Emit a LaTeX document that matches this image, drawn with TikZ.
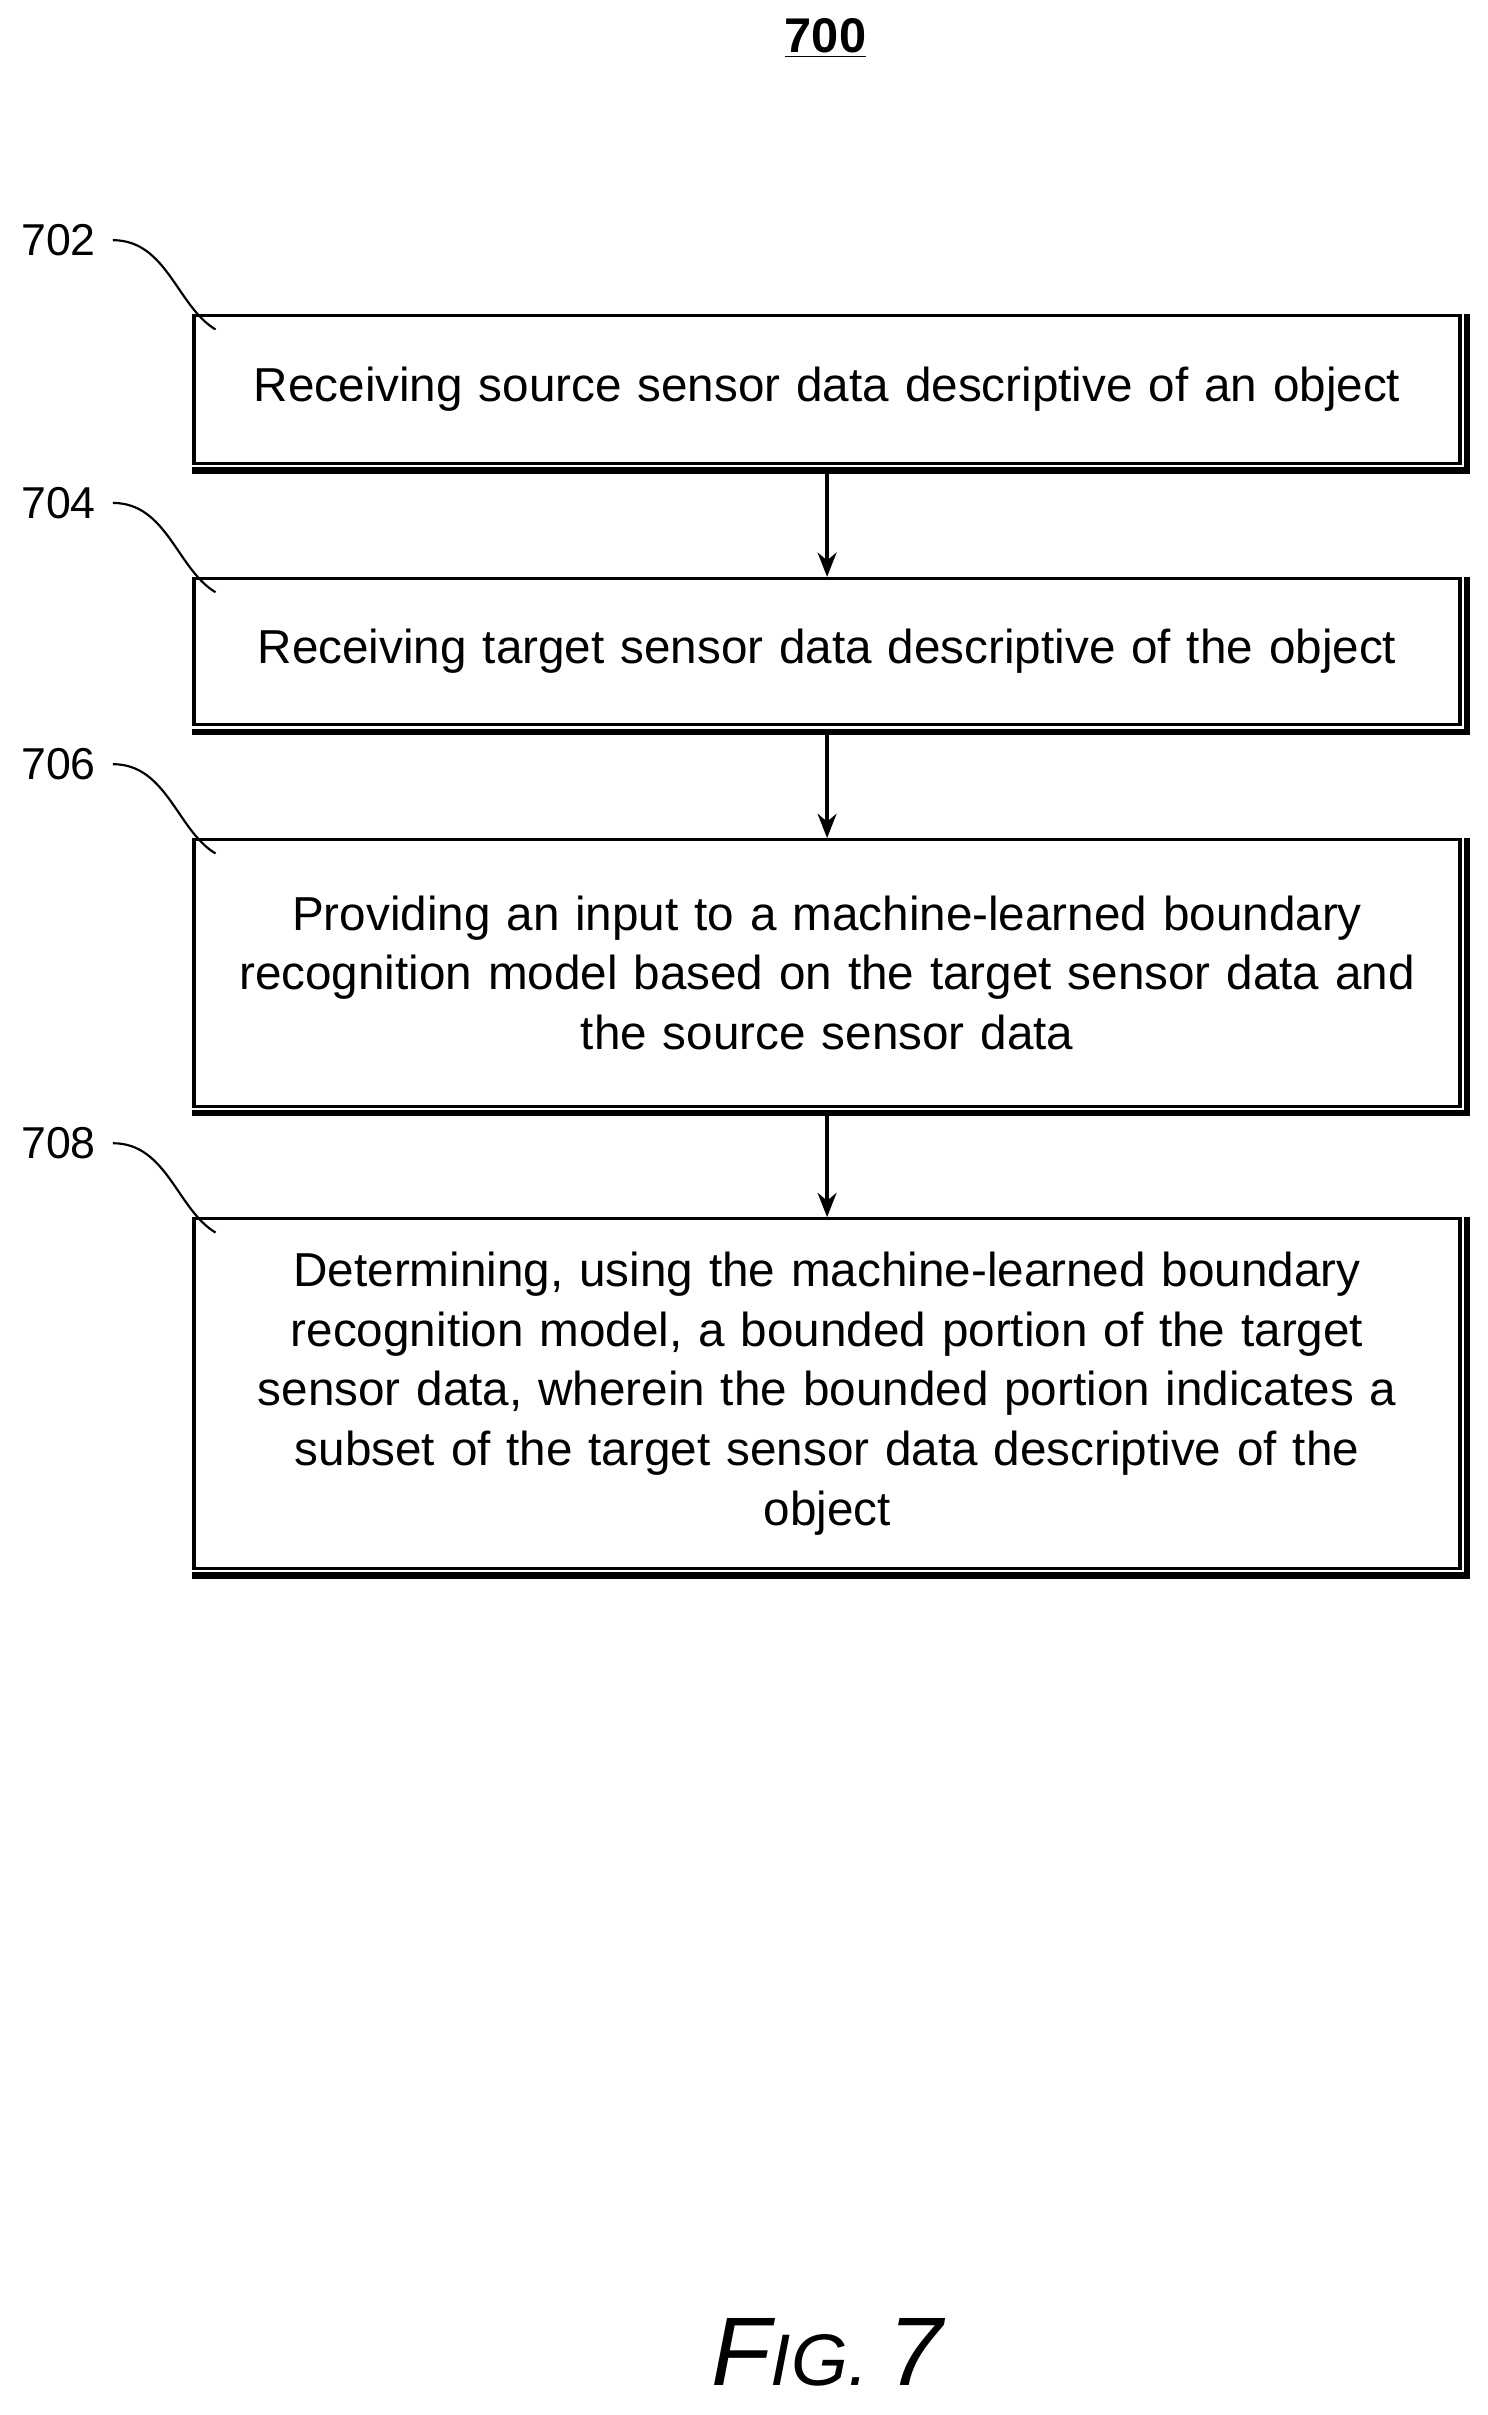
\documentclass[tikz,border=0pt]{standalone}
\usepackage{fontspec}
\setmainfont{Liberation Sans}
\usetikzlibrary{positioning,arrows.meta}
\begin{document}
\begin{tikzpicture}[node distance=1.45cm,>={Stealth[length=9pt,width=7pt]}]

  \tikzstyle{stepBox}=[draw=black, line width=1.2pt, rectangle, align=center, text width=16.2cm,
      minimum width=16.44cm, font=\fontsize{17.6}{22}\selectfont, inner sep=0pt]
  \tikzstyle{shade}=[line width=2.4pt]
  \tikzstyle{ref}=[font=\fontsize{16.5}{16.5}\selectfont, anchor=center]

  % Page
  \useasboundingbox (0,0) rectangle (19.32,-31.36);

  % Title
  \node at (10.72,-0.5) (title) {\fontsize{18}{18}\selectfont\bfseries\underline{700}};

  % Steps
  \node at (10.74,-5.06) [stepBox, minimum height=1.92cm] (S702)
      {Receiving source sensor data descriptive of an object};
  \node [stepBox, minimum height=1.9cm, below=of S702] (S704)
      {Receiving target sensor data descriptive of the object};
  \node [stepBox, minimum height=3.46cm, below=of S704] (S706)
      {Providing an input to a machine-learned boundary\\ recognition model based on the target sensor data and\\ the source sensor data};
  \node [stepBox, minimum height=4.54cm, below=1.42cm of S706] (S708)
      {Determining, using the machine-learned boundary\\ recognition model, a bounded portion of the target\\ sensor data, wherein the bounded portion indicates a\\ subset of the target sensor data descriptive of the\\ object};

  % Shadows and arrows
  \foreach \s in {S702,S704,S706,S708}
      \draw[shade] ([xshift=2pt]\s.north east) -- ([xshift=2pt,yshift=-2pt]\s.south east) -- ([yshift=-2pt]\s.south west);
  \draw[->, line width=1.2pt] ([yshift=-2pt]S702.south) -- (S704.north);
  \draw[->, line width=1.2pt] ([yshift=-2pt]S704.south) -- (S706.north);
  \draw[->, line width=1.2pt] ([yshift=-2pt]S706.south) -- (S708.north);

  % Reference numerals
  \foreach \s/\n in {S702/702,S704/704,S706/706,S708/708} {
      \node[ref] at ([xshift=-1.74cm,yshift=0.96cm]\s.north west) (L\n) {\n};
      \draw[line width=0.8pt] ([xshift=0.1cm]L\n.east) .. controls +(0.7,0) and +(-0.5,0.3) .. ([xshift=0.3cm,yshift=-0.2cm]\s.north west);
  }

  % Figure label
  \node at (10.74,-30.55) (fig) {\fontsize{36}{36}\selectfont\itshape F\fontsize{27}{27}\selectfont IG. \fontsize{36}{36}\selectfont 7};
\end{tikzpicture}
\end{document}
